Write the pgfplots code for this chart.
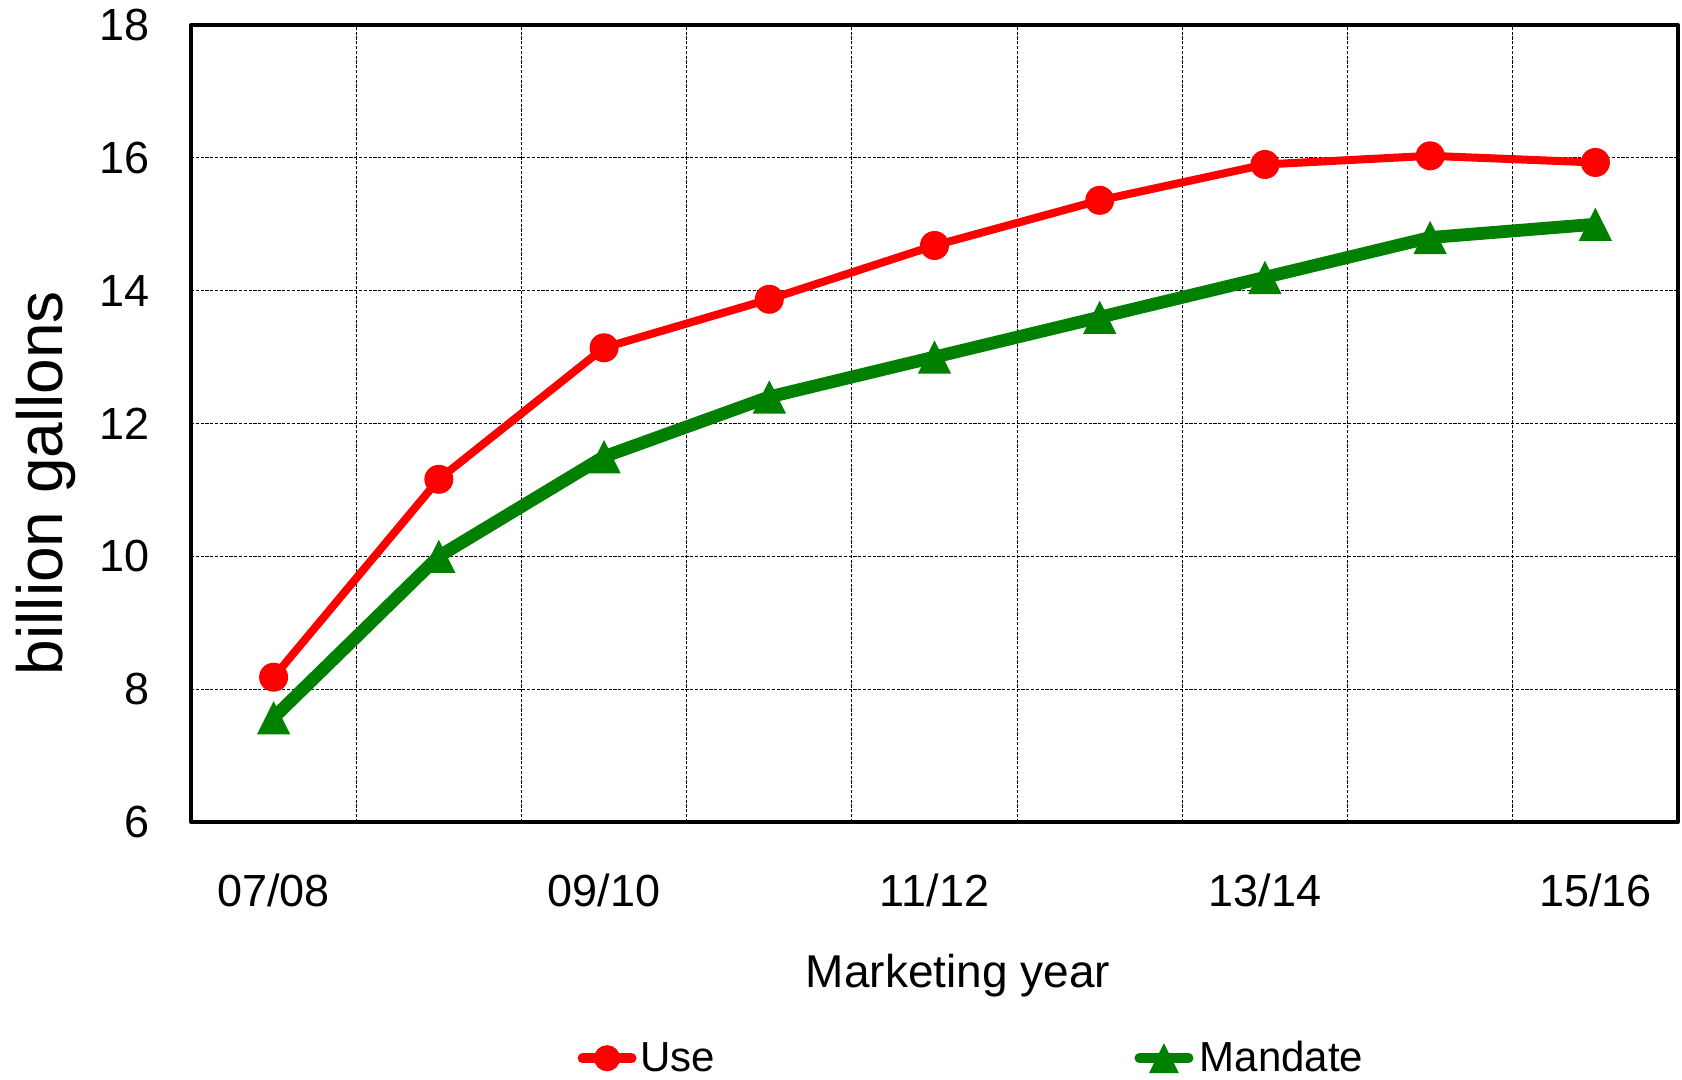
\documentclass[border=0pt]{standalone}
\usepackage{fontspec}
\setmainfont{Liberation Sans}
\usepackage{pgfplots}
\pgfplotsset{compat=1.18}

\definecolor{usered}{RGB}{255,0,0}
\definecolor{mandgreen}{RGB}{0,128,0}

% filled marks without outline
\pgfdeclareplotmark{fcirc}{%
  \pgfpathcircle{\pgfpointorigin}{\pgfplotmarksize}%
  \pgfusepathqfill}
\pgfdeclareplotmark{isotri}{%
  \pgfpathmoveto{\pgfqpoint{0pt}{\pgfplotmarksize}}%
  \pgfpathlineto{\pgfqpoint{\pgfplotmarksize}{-\pgfplotmarksize}}%
  \pgfpathlineto{\pgfqpoint{-\pgfplotmarksize}{-\pgfplotmarksize}}%
  \pgfpathclose
  \pgfusepathqfill}

\newcommand{\ticksize}{\fontsize{22.5bp}{27bp}\selectfont}

\begin{document}
\begin{tikzpicture}
\useasboundingbox (-95.5bp,-129bp) rectangle (745.5bp,411bp);
\begin{axis}[
  at={(0,0)}, anchor=south west,
  scale only axis, width=743.5bp, height=398.5bp,
  xmin=-0.5, xmax=8.5, ymin=6, ymax=18,
  xtick={0,2,4,6,8},
  xticklabels={07/08,09/10,11/12,13/14,15/16},
  minor xtick={0.5,1.5,2.5,3.5,4.5,5.5,6.5,7.5},
  ytick={6,8,10,12,14,16,18},
  xminorgrids=true, xmajorgrids=false, ymajorgrids=true,
  major tick length=0pt, minor tick length=0pt,
  grid style={black, line width=0.6bp, dash pattern=on 1.6bp off 0.8bp},
  minor grid style={black, line width=0.6bp, dash pattern=on 1.6bp off 0.8bp},
  axis line style={line width=2bp, black},
  tick label style={font=\ticksize},
  /pgf/number format/assume math mode=true,
  yticklabel style={anchor=east, inner sep=0pt, xshift=-20.5bp},
  xticklabel style={anchor=north, inner sep=0pt, yshift=-25.5bp},
  xlabel={Marketing year},
  xlabel style={at={(axis description cs:0.5158,-0.1650)}, anchor=north,
    inner sep=0pt, font=\fontsize{23bp}{28bp}\selectfont},
  ylabel={billion gallons},
  ylabel style={at={(axis description cs:-0.1177,0.4253)}, rotate=0,
    anchor=north, inner sep=0pt, font=\fontsize{32bp}{38bp}\selectfont},
  legend columns=2,
  legend style={at={(axis description cs:0.2573,-0.2964)}, anchor=west,
    draw=none, fill=none, inner sep=0pt, outer sep=0pt,
    font=\fontsize{21bp}{25bp}\selectfont,
    nodes={inner sep=0pt},
    /tikz/every even column/.append style={column sep=206.4bp}},
  legend image code/.code={
    \draw[mark repeat=2, mark phase=2, line width=5bp, line cap=round,
          mark options={scale=0.9}]
      plot coordinates {(2.5bp,0bp) (14.75bp,0bp) (27bp,0bp)};
    \path (0bp,0bp) (29.5bp,0bp);
  },
  line join=round,
]
\addplot[color=usered, line width=4bp, mark=fcirc, mark size=7.25bp]
  coordinates {(0,8.18) (1,11.16) (2,13.14) (3,13.87) (4,14.68)
               (5,15.36) (6,15.90) (7,16.03) (8,15.93)};
\addlegendentry{Use}
\addplot[color=mandgreen, line width=6.4bp, mark=isotri, mark size=8.33bp]
  coordinates {(0,7.57) (1,10.0) (2,11.5) (3,12.4) (4,13.0)
               (5,13.6) (6,14.2) (7,14.8) (8,15.0)};
\addlegendentry{Mandate}
\end{axis}
\end{tikzpicture}
\end{document}
